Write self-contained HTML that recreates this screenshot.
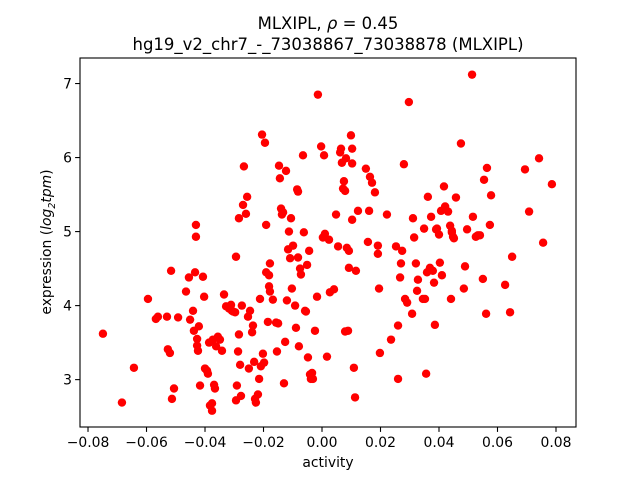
<!DOCTYPE html>
<html><head><meta charset="utf-8"><style>
html,body{margin:0;padding:0;background:#fff;}
svg text{font-family:"DejaVu Sans","Liberation Sans",sans-serif;fill:#000;}
</style></head><body>
<svg id="chart" width="640" height="480" viewBox="0 0 640 480" xmlns="http://www.w3.org/2000/svg">
<rect width="640" height="480" fill="#fff"/>
<text x="328" y="29" font-size="16.5" text-anchor="middle">MLXIPL, <tspan font-style="italic">ρ</tspan> = 0.45</text>
<text x="328" y="50" font-size="16.5" text-anchor="middle">hg19_v2_chr7_-_73038867_73038878 (MLXIPL)</text>
<g id="marks"></g>
<rect x="80" y="58" width="496" height="369" fill="none" stroke="#000" stroke-width="1.1"/>
<g id="axes"></g>
<text x="328" y="467" font-size="13.9" text-anchor="middle">activity</text>
<text transform="translate(51,242) rotate(-90)" font-size="13.9" text-anchor="middle">expression (<tspan font-style="italic">log</tspan><tspan font-style="italic" font-size="9.5" dy="4">2</tspan><tspan font-style="italic" dy="-4">tpm</tspan>)</text>
</svg>
<script>
const xTicks=[-0.08,-0.06,-0.04,-0.02,0,0.02,0.04,0.06,0.08];
const yTicks=[3,4,5,6,7];
const activity=[-0.0749,-0.0684,-0.0643,-0.0595,-0.0568,-0.0561,-0.0530,-0.0527,-0.0520,-0.0516,-0.0513,-0.0506,-0.0492,-0.0465,-0.0455,-0.0451,-0.0441,-0.0438,-0.0434,-0.0431,-0.0431,-0.0427,-0.0427,-0.0424,-0.0421,-0.0417,-0.0407,-0.0403,-0.0400,-0.0393,-0.0390,-0.0386,-0.0383,-0.0376,-0.0376,-0.0373,-0.0369,-0.0366,-0.0362,-0.0356,-0.0349,-0.0342,-0.0335,-0.0328,-0.0318,-0.0311,-0.0308,-0.0304,-0.0297,-0.0294,-0.0294,-0.0291,-0.0287,-0.0284,-0.0284,-0.0280,-0.0277,-0.0274,-0.0270,-0.0267,-0.0260,-0.0256,-0.0253,-0.0250,-0.0246,-0.0239,-0.0236,-0.0232,-0.0229,-0.0226,-0.0219,-0.0215,-0.0212,-0.0209,-0.0205,-0.0202,-0.0198,-0.0195,-0.0191,-0.0191,-0.0185,-0.0181,-0.0181,-0.0178,-0.0178,-0.0168,-0.0157,-0.0154,-0.0150,-0.0147,-0.0144,-0.0140,-0.0137,-0.0133,-0.0130,-0.0126,-0.0123,-0.0120,-0.0116,-0.0113,-0.0109,-0.0106,-0.0103,-0.0099,-0.0092,-0.0089,-0.0085,-0.0082,-0.0082,-0.0079,-0.0075,-0.0072,-0.0065,-0.0062,-0.0058,-0.0055,-0.0051,-0.0048,-0.0044,-0.0041,-0.0038,-0.0034,-0.0031,-0.0024,-0.0017,-0.0014,-0.0003,0.0003,0.0007,0.0010,0.0017,0.0024,0.0027,0.0041,0.0048,0.0055,0.0062,0.0065,0.0068,0.0072,0.0075,0.0079,0.0079,0.0082,0.0085,0.0089,0.0092,0.0092,0.0099,0.0103,0.0103,0.0103,0.0109,0.0113,0.0116,0.0123,0.0150,0.0157,0.0161,0.0164,0.0171,0.0181,0.0191,0.0191,0.0195,0.0198,0.0222,0.0236,0.0253,0.0260,0.0260,0.0267,0.0270,0.0274,0.0280,0.0284,0.0291,0.0297,0.0308,0.0311,0.0315,0.0321,0.0325,0.0328,0.0345,0.0349,0.0352,0.0356,0.0359,0.0362,0.0369,0.0373,0.0379,0.0383,0.0386,0.0390,0.0393,0.0400,0.0403,0.0407,0.0410,0.0417,0.0421,0.0431,0.0438,0.0441,0.0444,0.0444,0.0448,0.0451,0.0458,0.0475,0.0485,0.0489,0.0496,0.0513,0.0516,0.0526,0.0533,0.0540,0.0550,0.0554,0.0561,0.0564,0.0574,0.0578,0.0626,0.0643,0.0650,0.0694,0.0708,0.0742,0.0756,0.0786];
const expression=[3.62,2.69,3.16,4.09,3.82,3.85,3.85,3.41,3.36,4.47,2.74,2.88,3.84,4.19,4.38,3.81,3.93,3.66,4.45,4.93,5.09,3.55,3.46,3.39,3.72,2.92,4.39,4.12,3.15,3.12,3.08,3.50,2.65,2.58,2.68,3.54,2.93,2.88,3.45,3.58,3.54,3.39,4.15,3.99,3.96,4.01,3.93,3.92,3.91,4.66,2.72,2.92,3.38,3.61,5.18,3.20,2.78,4.00,5.36,5.88,5.24,5.47,3.85,3.15,3.93,3.64,3.73,3.24,2.74,2.69,2.80,3.01,4.09,3.18,6.31,3.35,3.23,6.20,4.45,5.09,3.78,4.41,4.26,4.19,4.57,4.08,3.77,3.38,3.76,5.89,5.72,5.31,5.23,5.26,2.95,3.51,5.82,4.07,4.76,5.00,4.64,5.18,4.23,4.81,4.00,3.70,5.57,5.54,4.65,3.45,4.50,4.42,6.03,4.99,3.93,3.92,4.55,3.30,4.74,3.07,3.01,3.09,3.01,3.66,4.12,6.85,6.15,4.92,6.03,4.97,3.31,4.89,4.18,4.22,5.23,4.80,6.07,6.12,5.93,5.58,5.68,3.65,5.55,5.99,4.78,3.66,4.74,4.51,6.30,6.12,5.92,5.16,3.16,2.76,4.47,5.28,5.85,4.86,5.28,5.74,5.66,5.53,4.81,4.70,4.23,3.36,5.23,3.54,4.80,3.01,3.73,4.38,4.57,4.74,5.91,4.09,4.04,6.75,3.89,5.18,4.92,4.57,4.20,4.35,4.09,5.04,4.09,3.08,4.45,5.47,4.51,5.20,4.47,4.31,3.74,5.03,5.04,4.96,4.58,5.28,4.41,5.61,5.34,5.27,5.08,4.09,5.01,4.99,4.93,4.91,5.46,6.19,4.23,4.53,5.03,7.12,5.20,4.93,4.95,4.95,4.36,5.70,3.89,5.86,5.09,5.49,4.28,3.91,4.66,5.84,5.27,5.99,4.85,5.64];

const NS='http://www.w3.org/2000/svg';
const X0=80,X1=576,Y0=58,Y1=427;
const xMin=-0.08274,xMax=0.08684,yMin=2.36,yMax=7.345;
function xs(v){return X0+(v-xMin)/(xMax-xMin)*(X1-X0);}
function ys(v){return Y1-(v-yMin)/(yMax-yMin)*(Y1-Y0);}
const marks=document.getElementById('marks');
for(let i=0;i<activity.length;i++){
  const c=document.createElementNS(NS,'circle');
  c.setAttribute('cx',xs(activity[i]).toFixed(2));
  c.setAttribute('cy',ys(expression[i]).toFixed(2));
  c.setAttribute('r','4.2');
  c.setAttribute('fill','#ff0000');
  
  
  marks.appendChild(c);
}
const axes=document.getElementById('axes');
function fmtX(v){const s=Math.abs(v).toFixed(2);return (v<-1e-9?'\u2212':'')+s;}
xTicks.forEach(v=>{
  const x=xs(v);
  const l=document.createElementNS(NS,'line');
  l.setAttribute('x1',x);l.setAttribute('x2',x);l.setAttribute('y1',Y1);l.setAttribute('y2',Y1+4.9);
  l.setAttribute('stroke','#000');l.setAttribute('stroke-width','1.1');
  
  
  axes.appendChild(l);
  const t=document.createElementNS(NS,'text');
  t.setAttribute('x',x);t.setAttribute('y',Y1+20);t.setAttribute('font-size','13.9');t.setAttribute('text-anchor','middle');
  t.textContent=fmtX(v);
  
  
  axes.appendChild(t);
});
yTicks.forEach(v=>{
  const y=ys(v);
  const l=document.createElementNS(NS,'line');
  l.setAttribute('x1',X0-4.9);l.setAttribute('x2',X0);l.setAttribute('y1',y);l.setAttribute('y2',y);
  l.setAttribute('stroke','#000');l.setAttribute('stroke-width','1.1');
  
  
  axes.appendChild(l);
  const t=document.createElementNS(NS,'text');
  t.setAttribute('x',X0-8);t.setAttribute('y',y+5);t.setAttribute('font-size','13.9');t.setAttribute('text-anchor','end');
  t.textContent=String(v);
  
  
  axes.appendChild(t);
});
</script>
</body></html>
